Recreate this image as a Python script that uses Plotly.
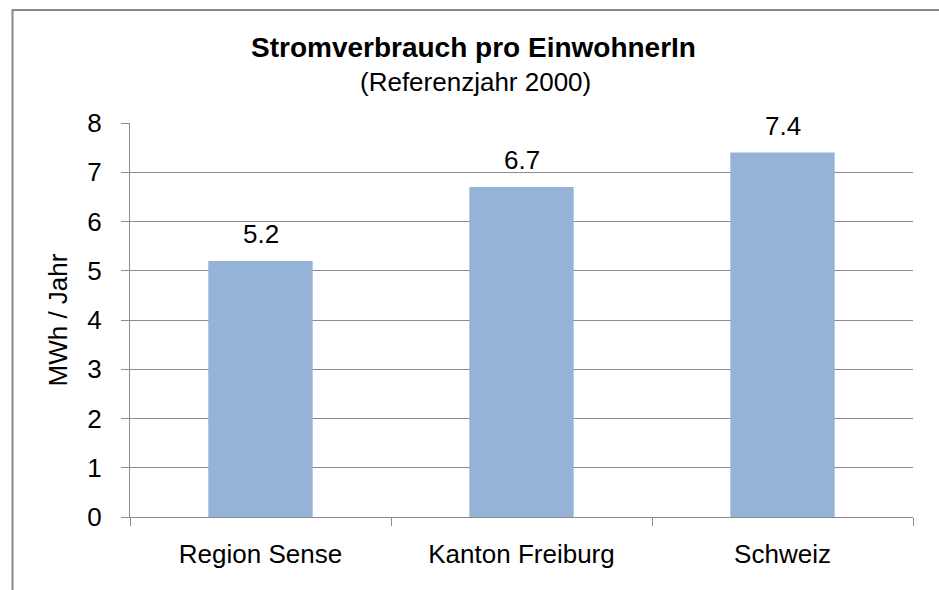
import plotly.graph_objects as go

categories = ["Region Sense", "Kanton Freiburg", "Schweiz"]
values = [5.2, 6.7, 7.4]
labels = ["5.2", "6.7", "7.4"]
y_ticks = [0, 1, 2, 3, 4, 5, 6, 7, 8]

FONT = "Liberation Sans, Arial, sans-serif"
L, R, T, B = 130, 26, 123, 73
W, H = 939, 590
pw, ph = W - L - R, H - T - B

def px_x(px):
    return (px - L) / pw

def px_y(py):
    return (H - B - py) / ph

fig = go.Figure()
fig.add_trace(go.Bar(
    x=categories, y=values,
    marker=dict(color="#95B3D7", line=dict(width=0)),
    hoverinfo="skip",
))

for c, v, t in zip(categories, values, labels):
    fig.add_annotation(x=c, y=v, text=t, showarrow=False, yanchor="bottom",
                       yshift=10, font=dict(family=FONT, size=26, color="#000000"))

fig.add_shape(type="rect", xref="paper", yref="paper",
              x0=px_x(12.5), x1=px_x(960), y0=px_y(620), y1=px_y(10),
              line=dict(color="#888888", width=2), fillcolor="rgba(0,0,0,0)", layer="below")

fig.add_annotation(xref="paper", yref="paper", x=px_x(473), y=px_y(47),
                   text="<b>Stromverbrauch pro EinwohnerIn</b>", showarrow=False,
                   xanchor="center", yanchor="middle",
                   font=dict(family=FONT, size=28, color="#000000"))
fig.add_annotation(xref="paper", yref="paper", x=px_x(475), y=px_y(82),
                   text="(Referenzjahr 2000)", showarrow=False,
                   xanchor="center", yanchor="middle",
                   font=dict(family=FONT, size=26, color="#000000"))

fig.update_layout(
    width=W, height=H,
    margin=dict(l=L, r=R, t=T, b=B, pad=0),
    paper_bgcolor="white", plot_bgcolor="white",
    bargap=0.6, showlegend=False,
    font=dict(family=FONT, size=26, color="#000000"),
    xaxis=dict(
        tickson="boundaries", ticks="outside", ticklen=8, tickcolor="#8C8C8C",
        showline=True, linecolor="#8C8C8C", linewidth=1,
        showgrid=False, tickfont=dict(size=26), ticklabelstandoff=14,
    ),
    yaxis=dict(
        range=[0, 8], tickvals=y_ticks, ticks="outside", ticklen=8,
        tickcolor="#8C8C8C", showline=True, linecolor="#8C8C8C", linewidth=1,
        showgrid=True, gridcolor="#8C8C8C", gridwidth=1, zeroline=False,
        tickfont=dict(size=26), ticklabelstandoff=14,
        title=dict(text="MWh / Jahr", font=dict(size=26), standoff=12),
    ),
)

fig.write_html("out.html", config={"displayModeBar": False},
               post_script="document.body.style.margin='0';")
